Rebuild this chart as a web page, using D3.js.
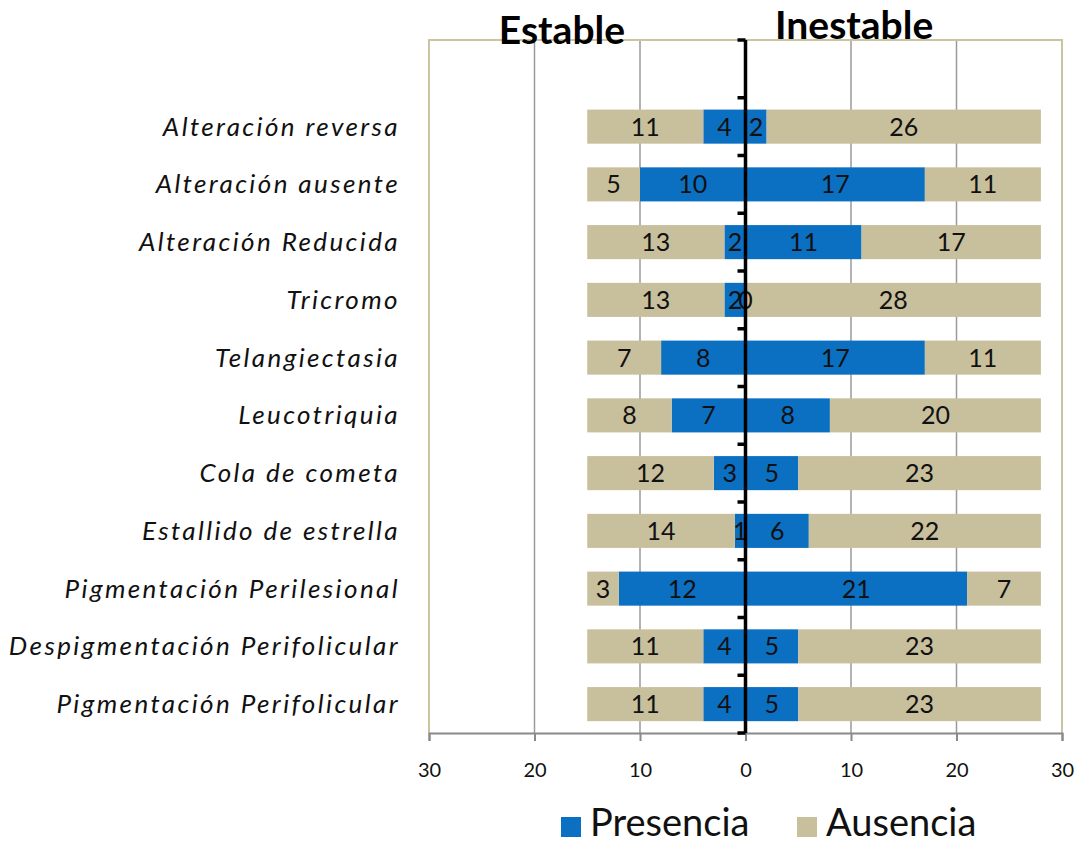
<!DOCTYPE html>
<html><head><meta charset="utf-8">
<script src="https://cdn.jsdelivr.net/npm/d3@7"></script>
<style>body{margin:0;background:#fff}svg{display:block}text{font-family:Lato,"Open Sans",sans-serif}</style>
</head><body><svg id="c" width="1085" height="843"></svg>
<script>
const categories = ["Alteración reversa","Alteración ausente","Alteración Reducida","Tricromo","Telangiectasia","Leucotriquia","Cola de cometa","Estallido de estrella","Pigmentación Perilesional","Despigmentación Perifolicular","Pigmentación Perifolicular"];
const establePresencia = [4,10,2,2,8,7,3,1,12,4,4];
const estableAusencia = [11,5,13,13,7,8,12,14,3,11,11];
const inestablePresencia = [2,17,11,0,17,8,5,6,21,5,5];
const inestableAusencia = [26,11,17,28,11,20,23,22,7,23,23];
const xTicks = [-30,-20,-10,0,10,20,30];
const groupTitles = ["Estable","Inestable"];
const legendLabels = ["Presencia","Ausencia"];

const BLUE = "#0b6fc2", TAN = "#c8bf9c";
const svg = d3.select("#c");
const L = 429, R = 1062, T = 40, B = 733;
const x = d3.scaleLinear().domain([-30,30]).range([L,R]);
const y = d3.scaleBand().domain([""].concat(categories)).range([T,B]).paddingInner(0.41).paddingOuter(0.205);
const step = y.step();

// gridlines
svg.append("g").selectAll("line").data(xTicks.filter(d=>d!==0 && Math.abs(d)!==30)).join("line")
  .attr("x1",d=>x(d)).attr("x2",d=>x(d)).attr("y1",T).attr("y2",B)
  .attr("stroke","#9a9a9a").attr("stroke-width",1.5);
// frame
svg.append("path").attr("d",`M${L},${B}V${T}H${R}V${B}`).attr("fill","none").attr("stroke","#c9c5a0").attr("stroke-width",2);

// bars
const rows = categories.map((c,i)=>({c, ep:establePresencia[i], ea:estableAusencia[i], ip:inestablePresencia[i], ia:inestableAusencia[i]}));
const segs = [];
rows.forEach(r=>{
  segs.push({c:r.c,x0:-r.ep,x1:0,v:r.ep,col:BLUE});
  segs.push({c:r.c,x0:-(r.ep+r.ea),x1:-r.ep,v:r.ea,col:TAN});
  segs.push({c:r.c,x0:0,x1:r.ip,v:r.ip,col:BLUE});
  segs.push({c:r.c,x0:r.ip,x1:r.ip+r.ia,v:r.ia,col:TAN});
});
svg.append("g").selectAll("rect").data(segs).join("rect")
  .attr("x",d=>x(d.x0)).attr("width",d=>x(d.x1)-x(d.x0))
  .attr("y",d=>y(d.c)).attr("height",y.bandwidth()).attr("fill",d=>d.col);
svg.append("g").selectAll("text").data(segs).join("text")
  .attr("x",d=>x((d.x0+d.x1)/2)).attr("y",d=>y(d.c)+y.bandwidth()/2+9)
  .attr("text-anchor","middle").attr("font-size",25).attr("fill","#111").text(d=>d.v);

// bottom axis
const ax = svg.append("g").attr("transform",`translate(0,${B})`)
  .call(d3.axisBottom(x).tickValues(xTicks).tickSize(8).tickFormat(d=>Math.abs(d)));
ax.select(".domain").attr("stroke","#8a8a8a").attr("stroke-width",2);
ax.selectAll(".tick line").attr("stroke","#8a8a8a").attr("stroke-width",2);
ax.selectAll(".tick text").attr("font-size",20).attr("fill","#111").attr("y",25).attr("dy","0.95em")
  .style("font-family","Lato,sans-serif");

// category labels
svg.append("g").selectAll("text").data(categories).join("text")
  .attr("x",400).attr("y",d=>y(d)+y.bandwidth()/2+9).attr("text-anchor","end")
  .attr("font-size",26).attr("font-style","italic").attr("letter-spacing",2.4).attr("fill","#111").text(d=>d);

// zero axis
svg.append("line").attr("x1",x(0)).attr("x2",x(0)).attr("y1",T).attr("y2",B)
  .attr("stroke","#000").attr("stroke-width",3.5);
const bounds = d3.range(13).map(i=>T+i*step);
svg.append("g").selectAll("line").data(bounds).join("line")
  .attr("x1",x(0)-8).attr("x2",x(0)).attr("y1",d=>d).attr("y2",d=>d)
  .attr("stroke","#000").attr("stroke-width",3.5);

// titles
svg.append("g").selectAll("text").data(groupTitles).join("text")
  .attr("x",(d,i)=>i===0?x(-17.4):x(10.3)).attr("y",(d,i)=>i===0?44:39).attr("text-anchor","middle")
  .attr("font-size",39).attr("font-weight","bold").attr("fill","#000").text(d=>d);

// legend
const lg = svg.append("g").selectAll("g").data(legendLabels).join("g")
  .attr("transform",(d,i)=>`translate(${i===0?561:797},0)`);
lg.append("rect").attr("x",0).attr("y",817).attr("width",20).attr("height",20).attr("fill",(d,i)=>i===0?BLUE:TAN);
lg.append("text").attr("x",29).attr("y",836).attr("font-size",38).attr("fill","#111").text(d=>d);
</script></body></html>
